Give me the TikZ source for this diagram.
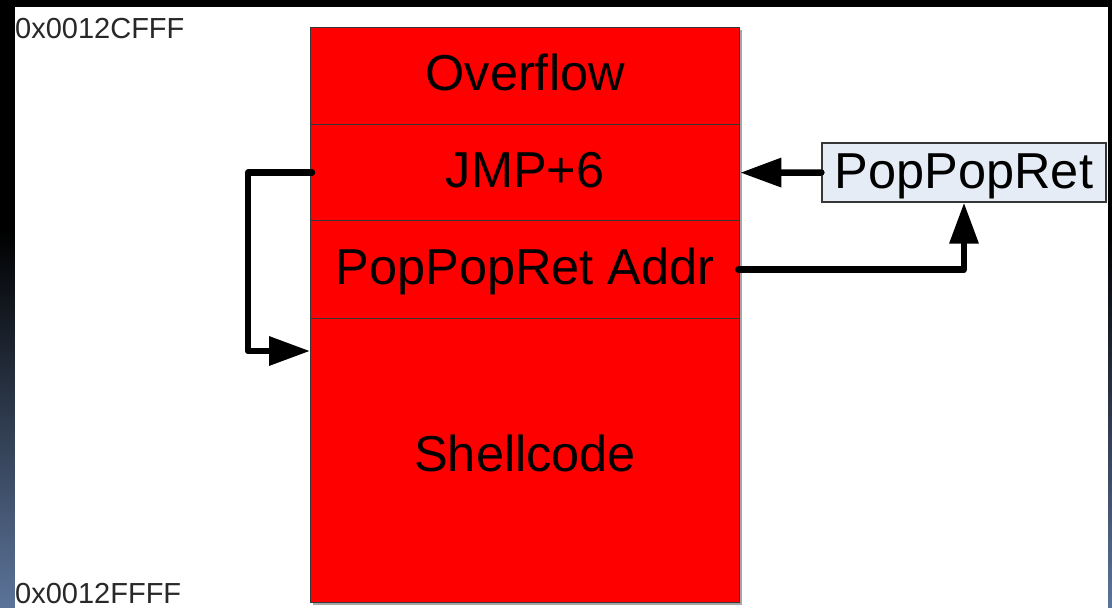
\documentclass[tikz,border=0pt]{standalone}
\usepackage{fontspec}
\setmainfont{Liberation Sans}
\usetikzlibrary{arrows.meta}
\definecolor{bgbot}{RGB}{92,116,154}
\definecolor{cellred}{RGB}{255,0,0}
\definecolor{boxfill}{RGB}{230,236,246}
\definecolor{edge}{RGB}{55,55,55}
\definecolor{labelgray}{RGB}{40,40,40}
\tikzset{
  cell/.style={draw=edge, line width=1.3pt, fill=cellred, minimum width=429pt,
    inner sep=0pt, anchor=north west, font=\fontsize{50.5}{60}\selectfont,
    text height=36pt, text depth=6.8pt},
  pprbox/.style={draw=edge, line width=1.3pt, fill=boxfill, minimum width=284pt,
    minimum height=59pt, inner sep=0pt, font=\fontsize{50.5}{60}\selectfont,
    text height=36pt, text depth=4.8pt},
  lab/.style={inner sep=0pt, text=labelgray, font=\fontsize{29}{34}\selectfont},
  conn/.style={line width=6.5pt, line cap=round, line join=round,
    -{Triangle[length=41pt,width=28pt]}}
}
\begin{document}
\begin{tikzpicture}[x=1pt,y=-1pt]
\useasboundingbox (0,0) rectangle (1112,608);
% background frame
\fill[black] (0,0) rectangle (1112,608);
\shade[top color=black, bottom color=bgbot] (0,230) rectangle (1112,608);
\fill[white] (15,7) rectangle (1108,608);
% stack shadow
\fill[black!35] (313,30) rectangle (742,605);
% stack cells
\node[cell, minimum height=97pt] (ov) at (310,27) {Overflow};
\node[cell, minimum height=96pt] (jmp) at (310,124) {JMP+6};
\node[cell, minimum height=98pt] (addr) at (310,220) {PopPopRet Addr};
\node[cell, minimum height=284pt, text depth=13.8pt] (shell) at (310,318) {Shellcode};
% PopPopRet box
\node[pprbox] (ppr) at (964,172.5) {PopPopRet};
% address labels
\node[lab, anchor=base west] (hi) at (15,38) {0x0012CFFF};
\node[lab, anchor=base west] (lo) at (15,603) {0x0012FFFF};
% connectors
\draw[conn] (ppr.west) -- (jmp.east);
\draw[conn] ([xshift=-2pt]addr.east) -| (ppr.south);
\draw[conn] ([xshift=2pt]jmp.west) -- ++(-64,0) |- ([yshift=-33pt]shell.north west);
\end{tikzpicture}
\end{document}
